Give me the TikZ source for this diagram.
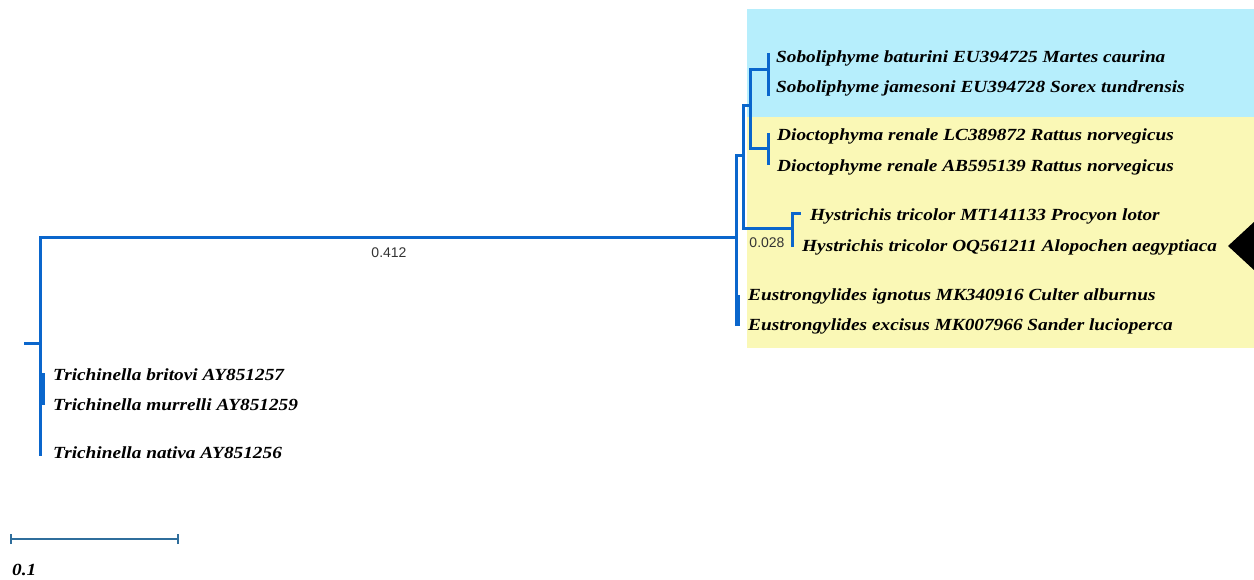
\documentclass[tikz,border=0pt]{standalone}
\usepackage{fontspec}
\newfontfamily\labfont{Liberation Serif}[FakeStretch=1.135]
\newfontfamily\numfont{Liberation Sans}
\definecolor{treeblue}{HTML}{0A66CC}
\definecolor{scaleblue}{HTML}{2F6E9C}
\definecolor{bgblue}{HTML}{B6EEFC}
\definecolor{bgyellow}{HTML}{FAF8B6}
\begin{document}
\begin{tikzpicture}[x=1pt,y=-1pt,
  br/.style={draw=treeblue,line width=3pt,line cap=rect},
  taxon/.style={anchor=base west,inner sep=0pt,font=\labfont\bfseries\itshape\fontsize{17}{19}\selectfont},
  blen/.style={inner sep=0pt,font=\numfont\fontsize{14}{16}\selectfont,text=black!80}]
\useasboundingbox (0,0) rectangle (1254,579);
% backgrounds
\fill[bgblue] (747,9) rectangle (1254,117);
\fill[bgyellow] (747,117) rectangle (1254,348);
% internal nodes
\coordinate (rootstub) at (25,343);
\coordinate (R) at (40,343);
\coordinate (Rtop) at (40,237);
\coordinate (Rbot) at (40,454);
\coordinate (B) at (736,237);
\coordinate (Btop) at (736,155);
\coordinate (Bbot) at (736,324);
\coordinate (C) at (743,155);
\coordinate (Ctop) at (743,105);
\coordinate (Cbot) at (743,228);
\coordinate (D) at (750,105);
\coordinate (Dtop) at (750,69);
\coordinate (Dbot) at (750,148);
\coordinate (S) at (768,69);
\coordinate (Stop) at (768,54);
\coordinate (Sbot) at (768,94);
\coordinate (Di) at (768,148);
\coordinate (Ditop) at (768,134);
\coordinate (Dibot) at (768,163);
\coordinate (H) at (792,228);
\coordinate (Htop) at (792,213);
\coordinate (Hbot) at (792,245);
\coordinate (Htip) at (799,213);
\coordinate (E) at (738,296);
\coordinate (Ebot) at (738,324);
\coordinate (T) at (43,374);
\coordinate (Tbot) at (43,403);
% tree
\draw[br] (rootstub) -- (R);
\draw[br] (Rtop) -- (Rbot);
\draw[br] (T) -- (Tbot);
\draw[br] (Rtop) -- (B);
\draw[br] (Btop) -- (Bbot);
\draw[br] (E) -- (Ebot);
\draw[br] (Btop) -- (C);
\draw[br] (Ctop) -- (Cbot);
\draw[br] (Ctop) -- (D);
\draw[br] (Dtop) -- (Dbot);
\draw[br] (Dtop) -- (S);
\draw[br] (Stop) -- (Sbot);
\draw[br] (Dbot) -- (Di);
\draw[br] (Ditop) -- (Dibot);
\draw[br] (Cbot) -- (H);
\draw[br] (Htop) -- (Hbot);
\draw[br] (Htop) -- (Htip);
% branch lengths
\node[blen] (l412) at (389,253) {0.412};
\node[blen] (l028) at (767,243) {0.028};
% taxa
\node[taxon] (t1) at (776,62) {Soboliphyme baturini EU394725 Martes caurina};
\node[taxon] (t2) at (776,92) {Soboliphyme jamesoni EU394728 Sorex tundrensis};
\node[taxon] (t3) at (777,140) {Dioctophyma renale LC389872 Rattus norvegicus};
\node[taxon] (t4) at (777,171) {Dioctophyme renale AB595139 Rattus norvegicus};
\node[taxon] (t5) at (810,220) {Hystrichis tricolor MT141133 Procyon lotor};
\node[taxon] (t6) at (802,251) {Hystrichis tricolor OQ561211 Alopochen aegyptiaca};
\node[taxon] (t7) at (748,300) {Eustrongylides ignotus MK340916 Culter alburnus};
\node[taxon] (t8) at (748,330) {Eustrongylides excisus MK007966 Sander lucioperca};
\node[taxon] (t9) at (53,380) {Trichinella britovi AY851257};
\node[taxon] (t10) at (53,410) {Trichinella murrelli AY851259};
\node[taxon] (t11) at (53,458) {Trichinella nativa AY851256};
% marker triangle
\fill[black] (1228,246) -- (1254,222) -- (1254,270) -- cycle;
% scale bar
\coordinate (sbl) at (11,539);
\coordinate (sbr) at (178,539);
\draw[scaleblue,line width=1.8pt] (sbl) -- (sbr);
\draw[scaleblue,line width=1.8pt] ([yshift=-5]sbl) -- ([yshift=5]sbl);
\draw[scaleblue,line width=1.8pt] ([yshift=-5]sbr) -- ([yshift=5]sbr);
\node[taxon] (sblabel) at (12,575) {0.1};
\end{tikzpicture}
\end{document}
